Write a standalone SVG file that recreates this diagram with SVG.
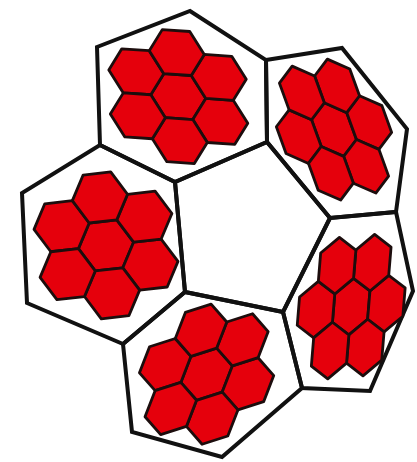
<svg xmlns="http://www.w3.org/2000/svg" width="417" height="462" viewBox="0 0 417 462">
<style>
.cell{fill:none;stroke:#111;stroke-width:4;stroke-linejoin:miter}
.r{fill:#e5000c;stroke:#1c0d0d;stroke-width:2.8;stroke-linejoin:round;vector-effect:non-scaling-stroke}
</style>
<defs>
<g id="flower">
<polygon class="r" points="0,-23.09 20,-11.55 20,11.55 0,23.09 -20,11.55 -20,-11.55"/>
<polygon class="r" points="40,-23.09 60,-11.55 60,11.55 40,23.09 20,11.55 20,-11.55"/>
<polygon class="r" points="-40,-23.09 -20,-11.55 -20,11.55 -40,23.09 -60,11.55 -60,-11.55"/>
<polygon class="r" points="20,-57.73 40,-46.19 40,-23.09 20,-11.55 0,-23.09 0,-46.19"/>
<polygon class="r" points="-20,-57.73 0,-46.19 0,-23.09 -20,-11.55 -40,-23.09 -40,-46.19"/>
<polygon class="r" points="20,11.55 40,23.09 40,46.19 20,57.73 0,46.19 0,23.09"/>
<polygon class="r" points="-20,11.55 0,23.09 0,46.19 -20,57.73 -40,46.19 -40,23.09"/>
</g>
</defs>
<rect width="417" height="462" fill="#fff"/>
<g id="pentagon">
<polygon class="cell" points="175,182 267,142 330,218 283,312 185,292"/>
</g>
<g id="cell-top">
<polygon class="cell" points="97,47 190,11 266,60 267,142 175,182 100,145"/>
<use href="#flower" transform="matrix(1.05 0.62 -0.562 0.913 178.3 96.6)"/>
</g>
<g id="cell-left">
<polygon class="cell" points="100,145 175,182 185,292 123,344 27,303 22,193"/>
<use href="#flower" transform="matrix(1.11 0.48 -0.466 1.107 106 245.4)"/>
</g>
<g id="cell-bottom">
<polygon class="cell" points="123,344 185,292 283,312 302,388 222,457 132,432"/>
<use href="#flower" transform="matrix(1.035 0.24 -0.437 1.13 206.6 374.2)"/>
</g>
<g id="cell-right-lower">
<polygon class="cell" points="330,218 396,212 413,291 370,391 302,388 283,312"/>
<use href="#flower" transform="matrix(0.88 -0.075 -0.101 1.225 351.2 306.6)"/>
</g>
<g id="cell-right-upper">
<polygon class="cell" points="266,60 342,48 407,129 396,212 330,218 267,142"/>
<use href="#flower" transform="matrix(0.88 -0.176 0.42 1.16 334 129.6)"/>
</g>
<g id="connectors"></g>
</svg>
